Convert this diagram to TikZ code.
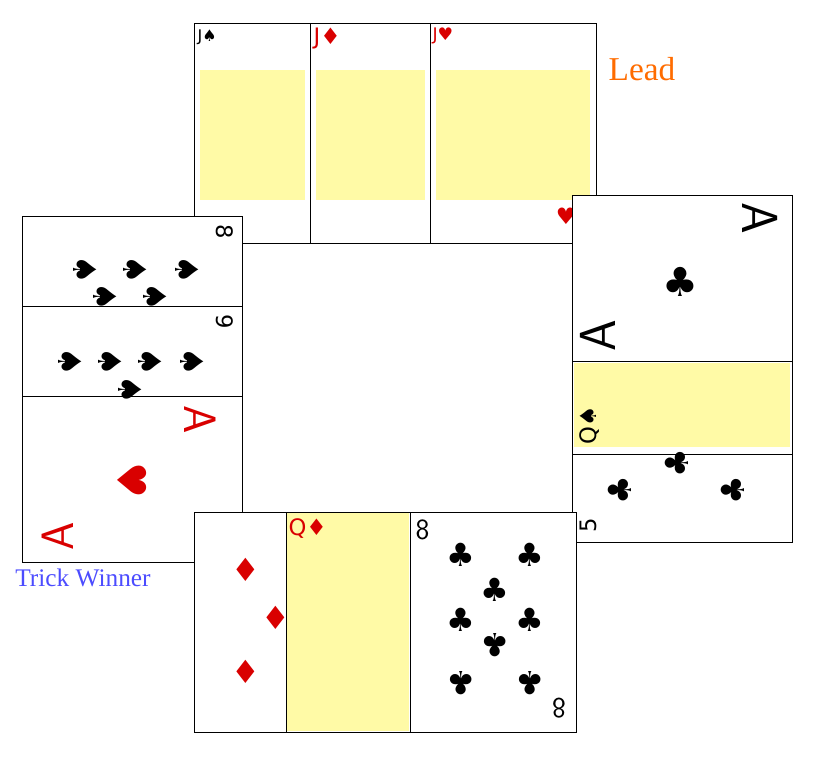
\documentclass[tikz,border=0pt]{standalone}
\usepackage{fontspec}
\setmainfont{Liberation Serif}
\newfontfamily\suitf{DejaVu Sans}
\begin{document}
\begin{tikzpicture}[x=0.75pt,y=-0.75pt,
  card/.style={draw=black,line width=0.5pt,fill=white},
  face/.style={draw=black,line width=0.5pt,fill=yellow!35!white},
  red/.style={text=red!85!black},
  blk/.style={text=black},
  pip/.style={font=\suitf\fontsize{24}{24}\selectfont},
  corner/.style={font=\suitf\fontsize{17}{17}\selectfont,inner sep=1pt}]
\useasboundingbox (0,0) rectangle (813,756);
% top: three jacks
\draw[card] (194,23) rectangle (596,243);
\fill[yellow!35!white] (200,70) rectangle (305,200);
\fill[yellow!35!white] (316,70) rectangle (425,200);
\fill[yellow!35!white] (436,70) rectangle (590,200);
\draw (310,23) -- (310,243); \draw (430,23) -- (430,243);
\node[corner,blk,anchor=north west] (js) at (196,28) {\fontsize{12}{12}\selectfont J♠};
\node[corner,red,anchor=north west] (jd) at (312,26) {J♦};
\node[corner,red,anchor=north west] (jh) at (431,26) {\fontsize{13}{13}\selectfont J♥};
\node[corner,red] (jh2) at (566,216) {♥};
% left stack
\draw[card] (22,216) rectangle (242,562);
\draw (22,306) -- (242,306); \draw (22,396) -- (242,396);
\node[corner,blk,rotate=-90] (e8) at (225,232) {8};
\node[pip,blk,rotate=-90] (s1) at (85,270) {♠};
\node[pip,blk,rotate=-90] (s2) at (135,270) {♠};
\node[pip,blk,rotate=-90] (s3) at (187,270) {♠};
\node[pip,blk,rotate=-90] (s4) at (105,297) {♠};
\node[pip,blk,rotate=-90] (s5) at (155,297) {♠};
\node[corner,blk,rotate=-90] (n9) at (225,322) {9};
\node[pip,blk,rotate=-90] (t1) at (70,362) {♠};
\node[pip,blk,rotate=-90] (t2) at (110,362) {♠};
\node[pip,blk,rotate=-90] (t3) at (150,362) {♠};
\node[pip,blk,rotate=-90] (t4) at (192,362) {♠};
\node[pip,blk,rotate=-90] (t5) at (130,390) {♠};
\node[corner,red,rotate=-90,font=\sffamily\fontsize{34}{34}\selectfont] (ah1) at (200,420) {A};
\node[pip,red,rotate=-90,font=\suitf\fontsize{30}{30}\selectfont] (ah) at (132,480) {♥};
\node[corner,red,rotate=90,font=\sffamily\fontsize{34}{34}\selectfont] (ah2) at (58,536) {A};
% right stack
\draw[card] (572,195) rectangle (792,542);
\fill[yellow!35!white] (574,363) rectangle (790,447);
\draw (572,361) -- (792,361); \draw (572,454) -- (792,454);
\node[corner,blk,rotate=-90,font=\sffamily\fontsize{38}{38}\selectfont] (ac1) at (760,218) {A};
\node[pip,blk,font=\suitf\fontsize{30}{30}\selectfont] (ac) at (680,282) {♣};
\node[corner,blk,rotate=90,font=\sffamily\fontsize{38}{38}\selectfont] (ac2) at (598,336) {A};
\node[corner,blk,rotate=90] (qs) at (590,425) {Q♠};
\node[pip,blk,rotate=90] (c1) at (620,490) {♣};
\node[pip,blk,rotate=90] (c2) at (733,490) {♣};
\node[pip,blk,rotate=90] (c3) at (677,463) {♣};
\node[corner,blk,rotate=90] (c5) at (588,525) {5};
% bottom stack
\draw[card] (194,512) rectangle (576,732);
\fill[yellow!35!white] (287,513) rectangle (409,731);
\draw (286,512) -- (286,732); \draw (410,512) -- (410,732);
\node[pip,red] (d1) at (246,570) {♦};
\node[pip,red] (d2) at (276,618) {♦};
\node[pip,red] (d3) at (246,672) {♦};
\node[corner,red,anchor=north west] (qd) at (287,517) {Q♦};
\node[corner,blk,anchor=north west,font=\sffamily\fontsize{22}{22}\selectfont] (c8a) at (414,518) {8};
\node[corner,blk,rotate=180,font=\sffamily\fontsize{22}{22}\selectfont] (c8b) at (559,708) {8};
\node[pip,blk] (k1) at (461,555) {♣};
\node[pip,blk] (k2) at (530,555) {♣};
\node[pip,blk] (k3) at (495,590) {♣};
\node[pip,blk] (k4) at (461,620) {♣};
\node[pip,blk] (k5) at (530,620) {♣};
\node[pip,blk,rotate=180] (k6) at (495,645) {♣};
\node[pip,blk,rotate=180] (k7) at (461,683) {♣};
\node[pip,blk,rotate=180] (k8) at (530,683) {♣};
% labels
\node[text=orange!85!red,font=\fontsize{25}{25}\selectfont] (lead) at (642,69) {Lead};
\node[text=blue!70!white,font=\fontsize{19}{19}\selectfont] (tw) at (83,578) {Trick Winner};
\end{tikzpicture}
\end{document}
